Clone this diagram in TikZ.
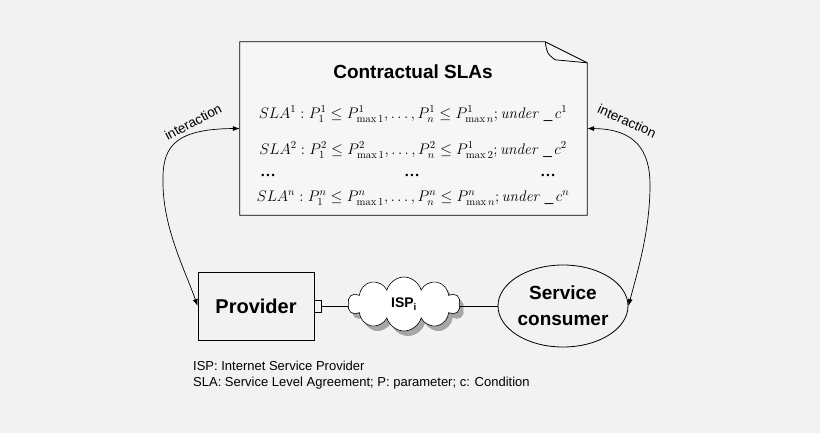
\documentclass[tikz,border=0pt]{standalone}
\usepackage{fix-cm}
\usepackage[no-math]{fontspec}
\setmainfont{Liberation Sans}
\newfontfamily\seriffont{Liberation Serif}
\usepackage{tikz}
\usetikzlibrary{arrows.meta,positioning,shapes.geometric,shapes.symbols,shadows}
\definecolor{pagebg}{HTML}{F2F2F2}
\definecolor{docbg}{HTML}{F6F6F6}

\begin{document}
\begin{tikzpicture}[x=1pt, y=-1pt, every node/.style={inner sep=0pt},
  box/.style={draw, line width=0.8pt, minimum width=116pt, minimum height=68pt, font=\fontsize{20}{24}\selectfont\bfseries},
  formula/.style={font=\fontsize{15.3}{18}\selectfont},
  link/.style={line width=0.6pt},
  talk/.style={line width=0.7pt, {Latex[length=7pt,width=5pt]}-{Latex[length=7pt,width=5pt]}},
  tag/.style={font=\fontsize{13.5}{16}\selectfont},
  note/.style={font=\fontsize{13}{16}\selectfont, anchor=west}]
\fill[pagebg] (0,0) rectangle (820,433);
% contract document
\node[minimum width=347pt, minimum height=173pt] (slas) at (413.5,128.5) {};
\draw[line width=0.8pt, fill=docbg] (slas.south west) -- (slas.north west) -- ([xshift=-42pt]slas.north east) -- ([yshift=-21pt]slas.north east) -- (slas.south east) -- cycle;
\draw[line width=0.8pt] ([xshift=-42pt]slas.north east) .. controls ([xshift=-40pt,yshift=-12pt]slas.north east) .. ([xshift=-32pt,yshift=-18pt]slas.north east) -- ([yshift=-21pt]slas.north east);
\node[font=\fontsize{19}{22}\selectfont\bfseries] (title) at (413,72) {Contractual SLAs};
\node[formula] (sla1) at (413,114) {$SLA^1: P_1^1 \le P^1_{\max 1},\ldots, P_n^1 \le P^1_{\max n}; \mathit{under}\;\_\,c^1$};
\node[formula] (sla2) at (413,150) {$SLA^2: P_1^2 \le P^2_{\max 1},\ldots, P_n^2 \le P^1_{\max 2}; \mathit{under}\;\_\,c^2$};
\foreach \x/\n in {268/a,412/b,548/c}
  \node[formula] (dots\n) at (\x,175) {\seriffont\bfseries\ldots};
\node[formula] (slan) at (413,198) {$SLA^n: P_1^n \le P^n_{\max 1},\ldots, P_n^n \le P^n_{\max n}; \mathit{under}\;\_\,c^n$};
% parties
\node[box] (provider) at (256,306) {Provider};
\node[draw, line width=0.6pt, fill=pagebg, minimum width=7pt, minimum height=12pt, anchor=west] (port) at (provider.east) {};
\node[cloud, cloud puffs=10, aspect=2.1, draw, line width=0.6pt, fill=white, minimum width=112pt, minimum height=54pt,
  drop shadow={shadow xshift=4pt, shadow yshift=-5pt, fill=gray!70, opacity=1},
  font=\fontsize{14}{16}\selectfont\bfseries] (isp) at (404,304) {ISP\textsubscript{i}};
\node[ellipse, draw, line width=0.8pt, minimum width=130pt, minimum height=82pt, align=center,
  font=\fontsize{19}{26}\selectfont\bfseries] (consumer) at (563,306) {Service\\consumer};
\draw[link] (port) -- (port -| isp.west);
\draw[link] (isp.east |- consumer) -- (consumer);
% interaction arrows
\draw[talk] (slas.west) .. controls (170,129) and (162,150) .. (163,185) .. controls (164,230) and (185,270) .. (provider.west);
\draw[talk] (slas.east) .. controls (635,129) and (650,150) .. (650,185) .. controls (650,230) and (638,270) .. (consumer.east);
\node[tag, rotate=28] (tagl) at (193,122) {interaction};
\node[tag, rotate=-24] (tagr) at (627,121) {interaction};
% legend
\node[note] (key1) at (193,366) {ISP: Internet Service Provider};
\node[note] (key2) at (193,383) {SLA: Service Level Agreement; P: parameter; c: Condition};
\end{tikzpicture}
\end{document}
